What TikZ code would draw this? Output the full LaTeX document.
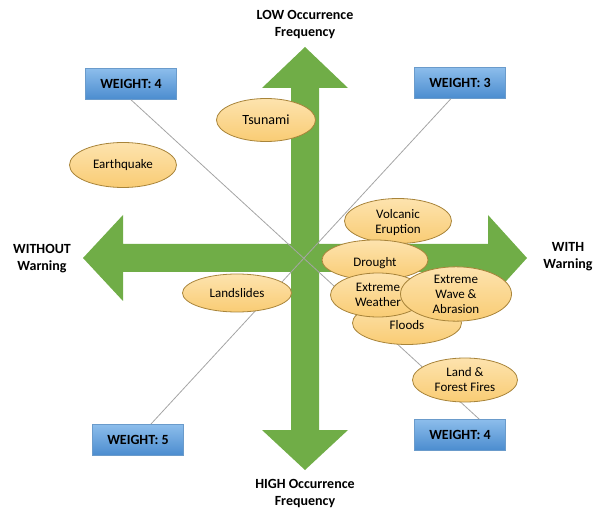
\documentclass[tikz,border=0pt]{standalone}
\usepackage{fontspec}
\setmainfont{Carlito}
\usetikzlibrary{shapes.geometric,calc}
\definecolor{arrowgreen}{HTML}{70AD47}
\definecolor{hazardtop}{HTML}{FDE3AE}
\definecolor{hazardbot}{HTML}{F9CC74}
\definecolor{hazardedge}{HTML}{A8843A}
\definecolor{boxtop}{HTML}{8CBDEB}
\definecolor{boxbot}{HTML}{4B8CCF}
\definecolor{boxedge}{HTML}{6A9BCB}
\definecolor{diaggray}{HTML}{A5A5A5}
% lower a text inside its node without changing the node's size
\newcommand{\dropby}[2]{\raisebox{-#1}[\height][\depth]{#2}}
\begin{document}
\begin{tikzpicture}[x=1pt,y=-1pt,
  hazard/.style={ellipse, draw=hazardedge, line width=0.8pt,
    top color=hazardtop, bottom color=hazardbot, inner sep=0pt,
    align=center, font=\fontsize{13}{15}\selectfont},
  weightbox/.style={rectangle, draw=boxedge, line width=0.6pt,
    top color=boxtop, bottom color=boxbot,
    minimum width=91pt, minimum height=31pt, inner sep=0pt,
    font=\fontsize{14}{16}\selectfont\bfseries},
  axislabel/.style={align=center, inner sep=0pt,
    font=\fontsize{14}{17}\selectfont\bfseries},
  diag/.style={draw=diaggray, line width=0.8pt}]
\useasboundingbox (0,0) rectangle (594,510);

% vertical double arrow (occurrence frequency axis)
\fill[arrowgreen] (291,88) -- (262,88) -- (305,47) -- (348,88) -- (319,88)
  -- (319,430) -- (348,430) -- (305,470) -- (262,430) -- (291,430) -- cycle;
% horizontal double arrow (warning axis)
\fill[arrowgreen] (123,244) -- (123,215) -- (83,258) -- (123,301) -- (123,272)
  -- (488,272) -- (488,301) -- (527,258) -- (488,215) -- (488,244) -- cycle;

% axis labels
\node[axislabel] (low)  at (305,25)  {LOW Occurrence\\Frequency};
\node[axislabel] (high) at (305,494) {HIGH Occurrence\\Frequency};
\node[axislabel] (without) at (42,259) {WITHOUT\\Warning};
\node[axislabel] (with) at (568,257) {WITH\\Warning};

% weight boxes
\node[weightbox] (wTL) at (131,84)  {WEIGHT: 4};
\node[weightbox] (wTR) at (460,83)  {WEIGHT: 3};
\node[weightbox] (wBL) at (138,440) {WEIGHT: 5};
\node[weightbox] (wBR) at (460,435) {WEIGHT: 4};

% diagonals joining opposite weight boxes
\draw[diag] (wTL.south) -- ($(wBR.north west)!0.71!(wBR.north east)$);
\draw[diag] ($(wTR.south west)!0.4!(wTR.south east)$)
  -- ($(wBL.north west)!0.64!(wBL.north east)$);

% hazards
\node[hazard, minimum width=99pt, minimum height=43pt,
  font=\fontsize{14}{16}\selectfont] (tsunami) at (266,120) {Tsunami};
\node[hazard, minimum width=107pt, minimum height=45pt] (quake) at (123,165) {Earthquake};
\node[hazard, minimum width=109pt, minimum height=38pt] (slides) at (237,293) {Landslides};
\node[hazard, minimum width=107pt, minimum height=45pt] (volcano) at (398,221) {\dropby{2pt}{Volcanic}\\\dropby{2pt}{Eruption}};
\node[hazard, minimum width=106pt, minimum height=40pt] (drought) at (375,260) {\dropby{3pt}{Drought}};
\node[hazard, minimum width=109pt, minimum height=43pt] (floods) at (407,323) {\dropby{2pt}{Floods}};
\node[hazard, minimum width=95pt, minimum height=44pt] (weather) at (378,295) {Extreme\\Weather};
\node[hazard, minimum width=111pt, minimum height=44pt] (wave) at (456,294) {Extreme\\Wave \&\\Abrasion};
\node[hazard, minimum width=105pt, minimum height=44pt] (fires) at (465,380) {Land \&\\Forest Fires};
\end{tikzpicture}
\end{document}
